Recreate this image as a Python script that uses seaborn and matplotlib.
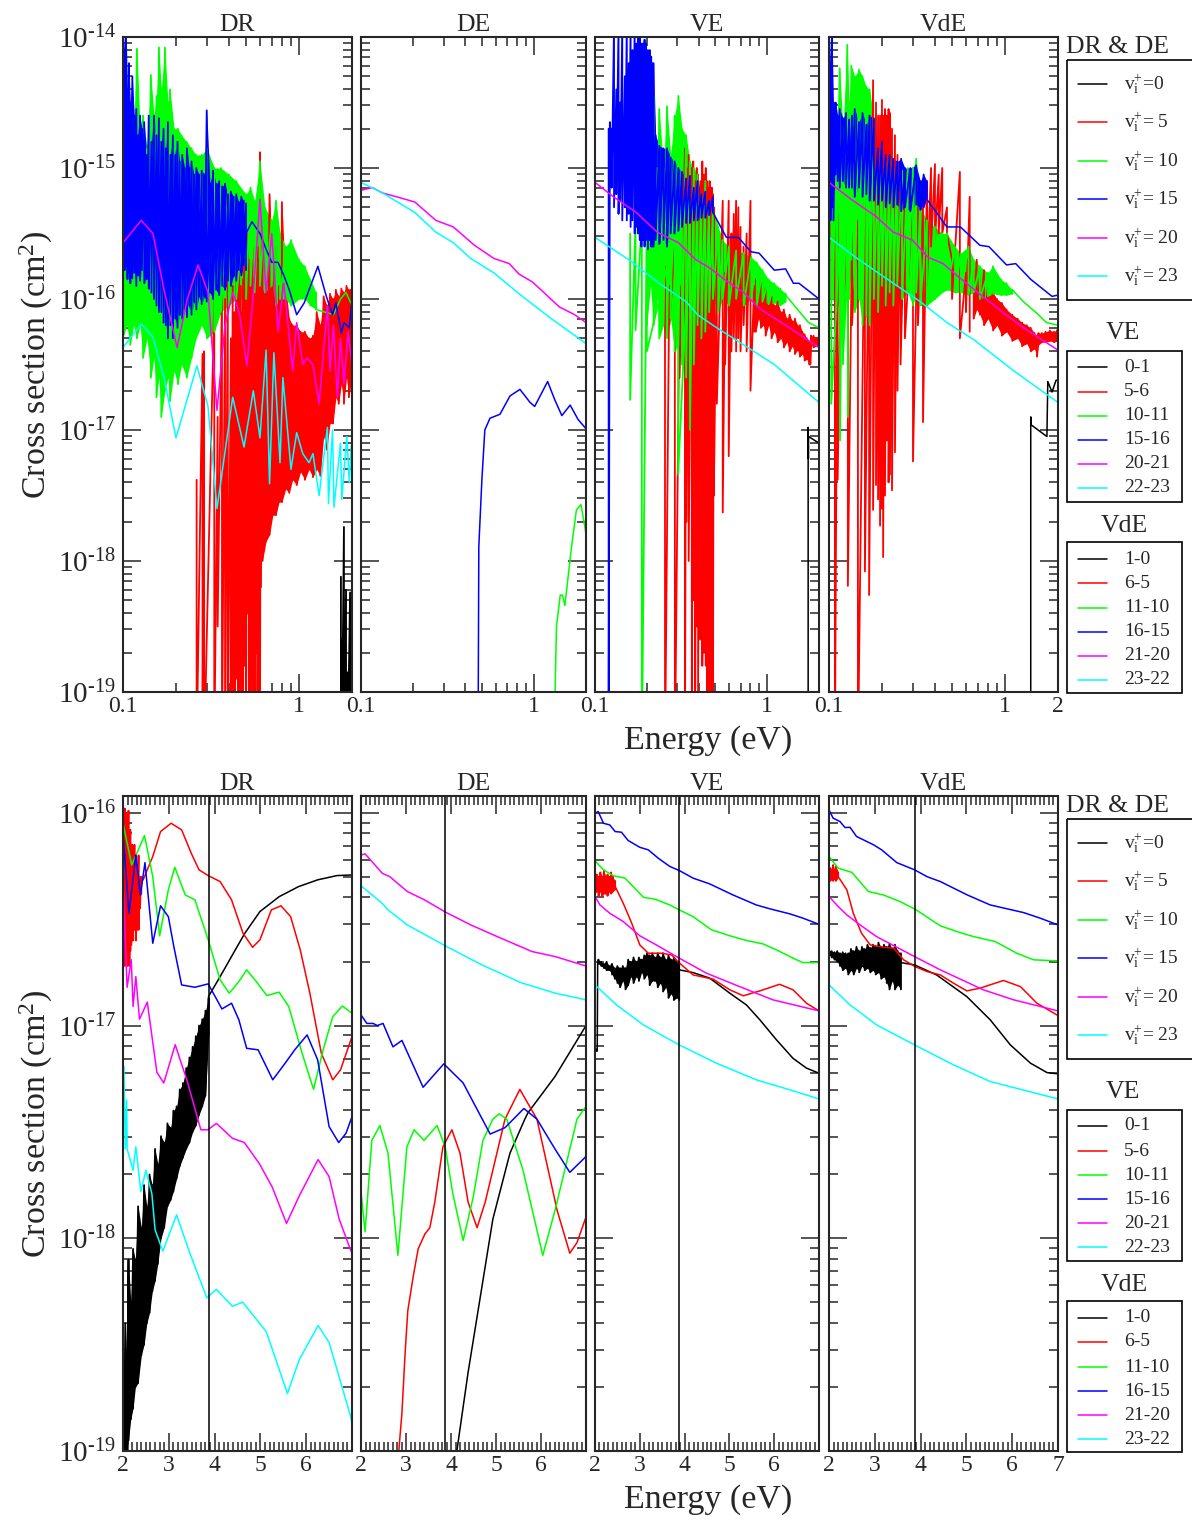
# -*- coding: utf-8 -*-
import matplotlib
matplotlib.use('Agg')
import matplotlib.pyplot as plt
from matplotlib.patches import Rectangle
from matplotlib.ticker import FixedLocator, FixedFormatter, NullFormatter
import seaborn as sns
import numpy as np

sns.set_style('ticks')
plt.rcParams['font.family'] = ['Liberation Serif', 'DejaVu Sans']
plt.rcParams['mathtext.fontset'] = 'custom'
plt.rcParams['mathtext.rm'] = 'Liberation Serif'
plt.rcParams['mathtext.it'] = 'Liberation Serif:italic'
plt.rcParams['mathtext.default'] = 'rm'

BLACK, RED, GREEN, BLUE, MAGENTA, CYAN = '#000000', '#ff0000', '#00ff00', '#0000ff', '#ff00ff', '#00ffff'

process_names = ['DR', 'DE', 'VE', 'VdE']
legend_dr = ['=0', '= 5', '= 10', '= 15', '= 20', '= 23']
legend_ve = ['0-1', '5-6', '10-11', '15-16', '20-21', '22-23']
legend_vde = ['1-0', '6-5', '11-10', '16-15', '21-20', '23-22']
top_yticks = [-19, -18, -17, -16, -15, -14]
low_yticks = [-19, -18, -17, -16]
top_xticks = [0.1, 1, 2]
low_xticks = [2, 3, 4, 5, 6, 7]
threshold_energy = 3.87

# ---------- 0.1 - 2 eV, log10(cross section); bands are (E, high, low)
dr_black_spikes = [(1.73, -18.12, -19.5), (1.75, -18.6, -19.5), (1.80, -17.74, -19.5), (1.85, -18.22, -19.5),
                   (1.89, -18.85, -19.5), (1.95, -18.24, -19.5), (1.98, -18.3, -19.5)]
dr_red_spikes = [(0.262, -17.38, -19.5), (0.283, -16.42, -19.5), (0.289, -16.4, -19.5), (0.33, -16.0, -19.5),
                 (0.345, -16.9, -18.5), (0.365, -15.9, -19.5), (0.38, -16.0, -19.5), (0.394, -15.75, -19.5),
                 (0.41, -16.3, -19.5), (0.42, -15.9, -19.5), (0.43, -16.1, -19.5), (0.44, -15.8, -18.9),
                 (0.45, -15.95, -19.5), (0.457, -15.7, -19.5), (0.465, -15.9, -19.5), (0.472, -16.1, -19.5),
                 (0.48, -15.85, -19.5), (0.49, -15.6, -18.8), (0.5, -15.8, -19.5), (0.51, -15.5, -18.4),
                 (0.52, -15.7, -19.5), (0.53, -15.9, -19.5), (0.54, -15.7, -18.9), (0.55, -15.85, -19.5),
                 (0.56, -15.6, -19.5), (0.57, -15.8, -18.7), (0.58, -15.6, -19.5), (0.59, -15.7, -19.5),
                 (0.6, -14.88, -19.5), (0.607, -15.6, -18.2)]
dr_red_band = [(0.62, -15.5, -18.0), (0.65, -15.8, -17.85), (0.68, -15.2, -17.8), (0.71, -15.7, -17.65),
               (0.74, -15.6, -17.65), (0.77, -15.9, -17.55), (0.8, -15.26, -17.55), (0.84, -15.9, -17.45),
               (0.88, -16.15, -17.48), (0.92, -16.2, -17.38), (0.97, -16.2, -17.42), (1.02, -16.25, -17.32),
               (1.08, -16.25, -17.38), (1.14, -16.3, -17.3), (1.2, -16.28, -17.36), (1.26, -16.1, -17.3),
               (1.32, -16.2, -17.35), (1.38, -15.98, -17.05), (1.44, -16.05, -17.15), (1.5, -15.96, -16.95),
               (1.56, -16.0, -16.95), (1.62, -15.93, -16.75), (1.68, -15.98, -16.8), (1.74, -15.92, -16.65),
               (1.8, -15.95, -16.8), (1.86, -15.9, -16.6), (1.92, -15.93, -16.75), (2.0, -15.9, -16.6)]
dr_green_band = [(0.1, -15.1, -16.3), (0.105, -14.9, -16.2), (0.11, -15.0, -16.35), (0.115, -14.75, -16.2),
                 (0.12, -14.09, -16.3), (0.125, -14.7, -16.2), (0.13, -14.6, -16.45), (0.137, -14.85, -16.3),
                 (0.144, -14.29, -16.6), (0.15, -14.6, -16.45), (0.155, -14.45, -16.75), (0.16, -14.08, -16.6),
                 (0.165, -14.4, -16.9), (0.173, -14.08, -16.7), (0.18, -14.5, -16.6), (0.185, -14.4, -16.78),
                 (0.195, -14.7, -16.55), (0.205, -14.7, -16.65), (0.215, -14.75, -16.5), (0.23, -14.8, -16.6),
                 (0.245, -14.85, -16.45), (0.26, -14.9, -16.3), (0.28, -14.9, -16.2), (0.3, -14.85, -16.3),
                 (0.33, -15.0, -16.25), (0.36, -15.0, -16.1), (0.4, -15.05, -16.05), (0.44, -15.1, -16.0),
                 (0.5, -15.2, -16.0), (0.53, -15.15, -15.9), (0.56, -15.25, -15.95), (0.6, -14.95, -15.9),
                 (0.64, -15.3, -15.95), (0.7, -15.4, -15.9), (0.74, -15.25, -16.05), (0.78, -15.5, -16.0),
                 (0.84, -15.6, -16.0), (0.9, -15.55, -16.05), (1.0, -15.7, -16.0), (1.08, -15.75, -16.0),
                 (1.16, -15.85, -16.05), (1.25, -15.95, -16.08)]
dr_green_E = [1.25, 1.4, 1.57, 1.72, 1.85, 2.0]
dr_green_S = [-16.08, -16.1, -16.12, -16.0, -15.95, -16.05]
dr_blue_band = [(0.1, -13.9, -15.72), (0.102, -14.1, -15.78), (0.104, -13.9, -15.75), (0.106, -14.4, -15.85),
                (0.108, -14.2, -15.8), (0.11, -14.5, -15.88), (0.113, -14.3, -15.84), (0.116, -14.6, -15.8),
                (0.119, -14.55, -15.9), (0.122, -14.75, -15.82), (0.125, -14.6, -15.86), (0.128, -14.7, -15.78),
                (0.132, -14.65, -15.88), (0.136, -14.9, -15.85), (0.14, -14.6, -15.92), (0.145, -14.8, -15.95),
                (0.15, -14.6, -16.0), (0.155, -14.75, -16.05), (0.16, -14.62, -16.1), (0.165, -14.8, -16.1),
                (0.17, -14.7, -16.18), (0.175, -14.85, -16.2), (0.18, -14.65, -16.3), (0.186, -14.9, -16.2),
                (0.192, -14.75, -16.3), (0.198, -14.9, -16.15), (0.204, -14.8, -16.22), (0.21, -14.95, -16.12),
                (0.217, -14.9, -16.15), (0.224, -15.0, -16.08), (0.231, -14.85, -16.14), (0.238, -15.0, -16.05),
                (0.245, -14.95, -16.12), (0.253, -15.05, -16.02), (0.261, -15.0, -16.08), (0.27, -15.05, -15.98),
                (0.28, -15.02, -16.04), (0.29, -15.05, -15.98), (0.299, -14.56, -16.02), (0.312, -15.12, -15.95),
                (0.325, -15.02, -16.0), (0.338, -15.12, -15.93), (0.352, -15.1, -15.97), (0.366, -15.14, -15.9),
                (0.38, -15.12, -15.93), (0.395, -15.2, -15.86), (0.41, -15.18, -15.9), (0.425, -15.22, -15.82),
                (0.44, -15.2, -15.86), (0.455, -15.26, -15.78), (0.47, -15.22, -15.82), (0.485, -15.25, -15.74),
                (0.5, -15.27, -15.78)]
dr_blue_E = [0.5, 0.54, 0.6, 0.65, 0.7, 0.76, 0.82, 0.88, 0.97, 1.07, 1.28, 1.43, 1.55, 1.62, 1.74, 1.8, 1.93, 2.0]
dr_blue_S = [-15.5, -15.41, -15.5, -15.62, -15.72, -15.72, -15.82, -15.93, -16.12, -16.03, -15.75, -15.98, -16.12,
             -16.03, -16.26, -16.18, -16.22, -16.0]
dr_magenta_E = [0.1, 0.127, 0.148, 0.171, 0.203, 0.231, 0.267, 0.304, 0.342, 0.38, 0.42, 0.46, 0.506, 0.547, 0.6,
                0.65, 0.7, 0.76, 0.82, 0.88, 0.92, 0.97, 1.05, 1.11, 1.2, 1.3, 1.45, 1.5, 1.57, 1.65, 1.72, 1.8, 1.9, 2.0]
dr_magenta_S = [-15.57, -15.4, -15.5, -15.93, -16.37, -16.01, -15.74, -15.95, -16.85, -16.2, -15.95, -16.12, -16.51,
                -16.0, -15.24, -15.95, -15.5, -16.25, -15.88, -16.29, -16.55, -16.18, -16.5, -16.45, -16.5, -16.8,
                -16.05, -16.55, -16.2, -16.75, -16.3, -16.65, -16.25, -16.5]
dr_cyan_E = [0.1, 0.127, 0.148, 0.171, 0.2, 0.263, 0.304, 0.342, 0.42, 0.487, 0.55, 0.6, 0.65, 0.68, 0.72, 0.78, 0.81,
             0.9, 0.97, 1.05, 1.14, 1.2, 1.3, 1.45, 1.47, 1.55, 1.58, 1.72, 1.75, 1.87, 1.93, 1.98]
dr_cyan_S = [-16.37, -16.19, -16.29, -16.6, -17.06, -16.51, -16.82, -17.6, -16.75, -17.13, -16.7, -17.06, -16.39,
             -17.41, -16.41, -17.25, -16.6, -17.3, -17.02, -17.18, -17.25, -17.18, -17.5, -16.98, -17.56, -17.0,
             -17.59, -17.1, -17.53, -17.05, -17.4, -17.12]

de_blue_E = [0.475, 0.48, 0.5, 0.52, 0.557, 0.636, 0.727, 0.83, 0.95, 1.01, 1.2, 1.32, 1.45, 1.62, 1.8, 2.0]
de_blue_S = [-19.5, -17.89, -17.38, -17.0, -16.91, -16.88, -16.74, -16.69, -16.79, -16.82, -16.63, -16.77, -16.89,
             -16.81, -16.92, -16.99]
de_green_E = [1.3, 1.35, 1.42, 1.46, 1.51, 1.65, 1.76, 1.87, 1.97, 2.0]
de_green_S = [-19.5, -18.5, -18.26, -18.26, -18.34, -17.89, -17.61, -17.57, -17.74, -17.8]
de_magenta_E = [0.1, 0.1165, 0.133, 0.171, 0.205, 0.271, 0.342, 0.453, 0.586, 0.72, 0.82, 0.98, 1.14, 1.4, 1.72, 2.0]
de_magenta_S = [-15.17, -15.15, -15.19, -15.23, -15.26, -15.4, -15.45, -15.59, -15.69, -15.73, -15.81, -15.87, -15.95,
                -16.06, -16.12, -16.18]
de_cyan_E = [0.1, 0.133, 0.205, 0.271, 0.342, 0.43, 0.586, 0.838, 1.26, 2.0]
de_cyan_S = [-15.11, -15.19, -15.34, -15.49, -15.57, -15.69, -15.8, -15.97, -16.15, -16.34]

ve_black_E = [1.73, 1.73, 1.735, 1.74, 2.0]
ve_black_S = [-19.5, -16.98, -17.22, -17.05, -17.1]
ve_red_spikes = [(0.255, -15.75, -19.5), (0.27, -15.9, -16.2), (0.291, -15.6, -19.5), (0.31, -15.9, -16.6),
                 (0.333, -14.85, -19.5), (0.34, -15.0, -17.7), (0.35, -14.9, -18.0), (0.365, -15.0, -19.5),
                 (0.372, -14.95, -18.3), (0.381, -15.1, -19.5), (0.39, -15.0, -18.5), (0.397, -15.05, -19.0),
                 (0.41, -15.1, -18.6), (0.42, -14.95, -18.8), (0.43, -15.05, -18.7), (0.44, -15.0, -18.8),
                 (0.447, -15.1, -19.5), (0.455, -15.15, -19.5), (0.463, -15.1, -19.5), (0.47, -15.2, -19.5),
                 (0.477, -15.15, -19.5), (0.484, -15.2, -19.5), (0.49, -15.3, -17.5), (0.51, -15.6, -16.8),
                 (0.552, -15.25, -17.63), (0.57, -15.8, -16.5), (0.598, -15.25, -17.2), (0.62, -15.5, -16.4),
                 (0.64, -15.35, -16.3), (0.66, -15.25, -16.4), (0.68, -15.3, -16.3), (0.7, -15.45, -16.4),
                 (0.73, -15.6, -16.2), (0.76, -15.5, -16.4), (0.8, -15.25, -16.7), (0.84, -15.9, -16.25)]
ve_red_band = [(0.86, -15.85, -16.25), (0.89, -15.95, -16.15), (0.92, -15.85, -16.22), (0.95, -16.0, -16.2),
               (0.98, -15.92, -16.28), (1.02, -16.02, -16.2), (1.06, -15.98, -16.3), (1.1, -16.05, -16.25),
               (1.15, -16.02, -16.33), (1.2, -16.1, -16.3), (1.25, -16.08, -16.37), (1.3, -16.15, -16.33),
               (1.35, -16.12, -16.4), (1.4, -16.17, -16.36), (1.45, -16.15, -16.42), (1.5, -16.2, -16.39),
               (1.55, -16.2, -16.44), (1.6, -16.25, -16.42), (1.65, -16.27, -16.47), (1.7, -16.3, -16.46),
               (1.76, -16.33, -16.5), (1.78, -16.35, -16.5), (1.8, -16.28, -16.35), (1.86, -16.28, -16.37),
               (1.92, -16.3, -16.36), (2.0, -16.28, -16.37)]
ve_green_spikes = [(0.16, -15.5, -16.77), (0.172, -15.4, -16.24), (0.187, -15.4, -19.5), (0.2, -15.4, -16.4),
                   (0.304, -15.4, -17.34), (0.356, -15.4, -16.81)]
ve_green_band = [(0.2, -14.6, -16.2), (0.21, -15.0, -15.9), (0.219, -14.45, -16.2), (0.23, -15.0, -16.0),
                 (0.236, -14.55, -16.3), (0.25, -15.0, -16.2), (0.262, -14.53, -16.3), (0.275, -14.9, -16.15),
                 (0.29, -14.6, -16.4), (0.305, -14.45, -16.35), (0.32, -14.7, -16.5), (0.338, -14.75, -16.6),
                 (0.356, -14.95, -17.0), (0.375, -15.0, -16.5), (0.394, -15.05, -16.2), (0.415, -15.2, -16.3),
                 (0.437, -15.1, -16.25), (0.46, -15.25, -16.1), (0.484, -15.3, -16.0), (0.52, -15.45, -16.1),
                 (0.55, -15.55, -16.0), (0.6, -15.6, -16.05), (0.66, -15.63, -16.0), (0.73, -15.65, -16.05),
                 (0.807, -15.68, -16.0), (0.87, -15.72, -16.05), (0.94, -15.78, -16.02), (1.02, -15.85, -16.04),
                 (1.1, -15.88, -16.03), (1.19, -15.92, -16.05), (1.28, -15.96, -16.02)]
ve_green_E = [1.28, 1.48, 1.74, 2.0]
ve_green_S = [-15.97, -16.07, -16.18, -16.22]
ve_blue_spikes = [(0.12, -14.7, -19.5), (0.122, -14.65, -15.1), (0.125, -14.7, -15.15), (0.129, -13.9, -15.3),
                  (0.133, -14.4, -15.2), (0.137, -13.9, -15.35), (0.14, -14.5, -15.25), (0.144, -13.9, -15.4),
                  (0.149, -14.3, -15.3), (0.153, -13.9, -15.4), (0.157, -14.2, -15.35), (0.161, -13.9, -15.45),
                  (0.165, -14.1, -15.4), (0.17, -13.9, -15.5), (0.174, -14.05, -15.45), (0.178, -13.9, -15.5),
                  (0.182, -14.0, -15.55), (0.186, -14.05, -15.6), (0.19, -14.05, -15.55), (0.194, -14.02, -15.6),
                  (0.198, -14.05, -15.55), (0.203, -14.1, -15.62), (0.208, -14.1, -15.55), (0.212, -14.15, -15.6),
                  (0.216, -14.2, -15.6)]
ve_blue_band = [(0.219, -14.2, -15.6), (0.225, -14.75, -15.55), (0.236, -14.83, -15.58), (0.25, -14.85, -15.55),
                (0.262, -14.85, -15.6), (0.275, -14.92, -15.5), (0.29, -14.95, -15.5), (0.305, -15.0, -15.48),
                (0.32, -15.03, -15.45), (0.338, -15.08, -15.42), (0.356, -15.06, -15.42), (0.375, -15.15, -15.4),
                (0.394, -15.1, -15.4), (0.415, -15.2, -15.38), (0.437, -15.18, -15.38), (0.46, -15.25, -15.36),
                (0.484, -15.22, -15.34)]
ve_blue_E = [0.484, 0.58, 0.68, 0.807, 0.897, 1.1, 1.28, 1.42, 1.53, 1.79, 2.0]
ve_blue_S = [-15.34, -15.53, -15.53, -15.64, -15.65, -15.78, -15.77, -15.88, -15.88, -15.95, -16.0]
ve_magenta_E = [0.1, 0.128, 0.174, 0.23, 0.305, 0.385, 0.46, 0.565, 0.73, 0.897, 1.35, 2.0]
ve_magenta_S = [-15.11, -15.22, -15.34, -15.49, -15.57, -15.7, -15.76, -15.85, -15.95, -16.07, -16.22, -16.37]
ve_cyan_E = [0.1, 0.157, 0.236, 0.338, 0.394, 0.51, 0.73, 1.1, 2.0]
ve_cyan_S = [-15.53, -15.7, -15.88, -16.02, -16.12, -16.22, -16.35, -16.5, -16.79]

vde_black_E = [1.4, 1.4, 1.405, 1.73, 1.75, 1.85, 1.95, 2.0]
vde_black_S = [-19.5, -16.9, -16.96, -17.05, -16.63, -16.71, -16.62, -16.62]
vde_red_spikes = [(0.1, -15.33, -15.6), (0.103, -15.4, -16.0), (0.108, -15.3, -19.5), (0.112, -15.35, -17.38),
                  (0.118, -15.4, -16.3), (0.128, -15.4, -18.19), (0.135, -15.5, -16.2), (0.146, -15.4, -19.5),
                  (0.16, -15.1, -18.08), (0.169, -15.1, -18.26), (0.178, -14.33, -17.61), (0.185, -14.5, -17.42),
                  (0.19, -14.6, -17.53), (0.195, -14.6, -17.73), (0.2, -14.48, -17.6), (0.203, -14.6, -17.97),
                  (0.208, -14.55, -17.5), (0.213, -14.6, -17.08), (0.218, -14.55, -17.4), (0.222, -14.58, -17.34),
                  (0.228, -14.7, -17.46), (0.237, -14.75, -17.17), (0.245, -14.9, -16.7), (0.255, -15.0, -16.5),
                  (0.27, -15.2, -16.3), (0.3, -15.2, -17.24), (0.32, -15.3, -16.2), (0.342, -15.3, -16.94),
                  (0.36, -15.1, -15.9), (0.38, -15.0, -15.6), (0.4, -14.97, -15.55), (0.42, -15.05, -15.5),
                  (0.44, -15.0, -15.5), (0.468, -15.3, -15.5), (0.5, -15.7, -16.0), (0.554, -15.03, -16.3),
                  (0.6, -15.8, -16.1), (0.63, -15.22, -16.25)]
vde_red_band = [(0.664, -15.78, -16.15), (0.69, -15.7, -16.08), (0.72, -15.82, -16.12), (0.76, -15.78, -16.2),
                (0.8, -15.9, -16.15), (0.855, -15.95, -16.24), (0.9, -16.0, -16.2), (0.96, -16.03, -16.28),
                (1.02, -16.08, -16.25), (1.1, -16.12, -16.32), (1.18, -16.15, -16.3), (1.25, -16.18, -16.36),
                (1.33, -16.2, -16.34), (1.4, -16.22, -16.4), (1.47, -16.26, -16.38), (1.52, -16.28, -16.44),
                (1.55, -16.26, -16.35), (1.62, -16.26, -16.33), (1.7, -16.25, -16.33), (1.8, -16.24, -16.32),
                (1.9, -16.25, -16.33), (2.0, -16.22, -16.32)]
vde_green_spikes = [(0.103, -15.0, -16.8), (0.1155, -15.5, -17.08), (0.119, -15.3, -16.3), (0.128, -15.0, -16.9)]
vde_green_band = [(0.105, -15.0, -16.0), (0.11, -14.75, -16.1), (0.115, -14.24, -16.0), (0.12, -14.7, -16.5),
                  (0.127, -14.06, -15.9), (0.13, -14.5, -16.0), (0.134, -14.22, -15.7), (0.14, -14.3, -16.1),
                  (0.148, -14.25, -16.0), (0.155, -14.3, -16.2), (0.163, -14.38, -16.13), (0.17, -14.4, -16.2),
                  (0.18, -14.63, -16.0), (0.19, -14.9, -16.1), (0.2, -14.88, -15.9), (0.21, -14.95, -16.05),
                  (0.221, -14.93, -15.95), (0.232, -15.0, -16.05), (0.244, -14.96, -15.9), (0.26, -15.02, -16.0),
                  (0.28, -15.0, -15.95), (0.3, -15.0, -16.05), (0.313, -14.93, -15.95), (0.33, -15.3, -16.05),
                  (0.36, -15.4, -16.05), (0.4, -15.45, -16.0), (0.44, -15.5, -15.95), (0.468, -15.5, -15.93),
                  (0.52, -15.6, -15.95), (0.56, -15.65, -15.95), (0.62, -15.6, -15.97), (0.664, -15.7, -15.95),
                  (0.72, -15.75, -16.0), (0.8, -15.8, -15.98), (0.855, -15.75, -15.96), (0.95, -15.85, -15.97),
                  (1.02, -15.88, -15.97), (1.1, -15.93, -15.96)]
vde_green_E = [1.1, 1.27, 1.52, 1.72, 2.0]
vde_green_S = [-15.93, -16.02, -16.11, -16.18, -16.2]
vde_blue_band = [(0.1, -13.9, -15.2), (0.102, -14.2, -15.4), (0.104, -13.95, -15.3), (0.106, -14.5, -15.4),
                 (0.109, -14.5, -15.05), (0.112, -14.6, -15.1), (0.115, -14.55, -15.15), (0.12, -14.62, -15.1),
                 (0.125, -14.58, -15.15), (0.13, -14.63, -15.15), (0.135, -14.6, -15.15), (0.14, -14.55, -15.22),
                 (0.148, -14.65, -15.15), (0.155, -14.58, -15.22), (0.163, -14.67, -15.2), (0.17, -14.6, -15.25),
                 (0.18, -14.62, -15.25), (0.19, -14.85, -15.28), (0.2, -14.8, -15.25), (0.21, -14.9, -15.3),
                 (0.221, -14.9, -15.27), (0.232, -14.93, -15.3), (0.244, -14.95, -15.28), (0.257, -14.93, -15.33),
                 (0.27, -15.0, -15.3), (0.29, -15.0, -15.33), (0.313, -14.98, -15.28), (0.33, -15.1, -15.32),
                 (0.345, -15.05, -15.3), (0.36, -15.1, -15.24)]
vde_blue_E = [0.36, 0.468, 0.558, 0.72, 0.81, 1.02, 1.15, 1.4, 1.85, 2.0]
vde_blue_S = [-15.24, -15.45, -15.45, -15.59, -15.6, -15.74, -15.73, -15.85, -15.98, -15.97]
vde_magenta_E = [0.1, 0.134, 0.185, 0.232, 0.298, 0.364, 0.445, 0.543, 0.7, 0.99, 1.34, 2.0]
vde_magenta_S = [-15.11, -15.24, -15.37, -15.49, -15.55, -15.68, -15.73, -15.83, -15.95, -16.11, -16.24, -16.39]
vde_cyan_E = [0.1, 0.148, 0.232, 0.33, 0.468, 0.664, 1.1, 2.0]
vde_cyan_S = [-15.53, -15.7, -15.88, -16.02, -16.18, -16.31, -16.54, -16.79]

# ---------- 2 - 7 eV
low_dr_black_band = [(2.0, -18.7, -19.5), (2.05, -18.4, -19.5), (2.08, -18.55, -19.0), (2.12, -18.1, -18.95),
                     (2.17, -18.3, -18.85), (2.22, -18.05, -18.8), (2.27, -18.1, -18.7), (2.33, -17.85, -18.68),
                     (2.4, -17.95, -18.55), (2.46, -17.75, -18.5), (2.52, -17.85, -18.4), (2.58, -17.7, -18.35),
                     (2.64, -17.75, -18.25), (2.7, -17.58, -18.2), (2.76, -17.65, -18.12), (2.83, -17.52, -18.0),
                     (2.9, -17.55, -17.95), (2.97, -17.46, -17.85), (3.04, -17.48, -17.82), (3.1, -17.4, -17.78),
                     (3.17, -17.38, -17.72), (3.24, -17.3, -17.66), (3.31, -17.27, -17.62), (3.38, -17.2, -17.58),
                     (3.45, -17.15, -17.55), (3.52, -17.1, -17.5), (3.59, -17.05, -17.47), (3.66, -17.0, -17.42),
                     (3.73, -16.97, -17.38), (3.8, -16.93, -17.33), (3.87, -16.87, -17.05)]
low_dr_black_E = [3.865, 4.12, 4.41, 4.66, 4.99, 5.41, 5.83, 6.25, 6.67, 7.0]
low_dr_black_S = [-16.864, -16.77, -16.66, -16.566, -16.464, -16.394, -16.347, -16.315, -16.295, -16.292]
low_dr_red_spikes = [(2.0, -16.0, -16.6), (2.02, -16.03, -16.7), (2.04, -15.98, -16.72), (2.06, -16.05, -16.7),
                     (2.08, -16.0, -16.71), (2.1, -16.08, -16.72), (2.12, -15.99, -16.71), (2.14, -16.1, -16.72),
                     (2.16, -16.08, -16.65), (2.18, -16.15, -16.62), (2.2, -16.15, -16.6), (2.22, -16.2, -16.6),
                     (2.25, -16.15, -16.55), (2.28, -16.2, -16.6), (2.31, -16.25, -16.55), (2.34, -16.2, -16.55),
                     (2.37, -16.3, -16.45), (2.4, -16.3, -16.38)]
low_dr_red_E = [2.44, 2.65, 2.82, 3.05, 3.28, 3.49, 3.66, 3.86, 4.12, 4.37, 4.62, 4.83, 4.99, 5.24, 5.45, 5.66, 5.87,
                6.08, 6.33, 6.58, 6.75, 7.0]
low_dr_red_S = [-16.315, -16.205, -16.088, -16.049, -16.08, -16.19, -16.268, -16.295, -16.323, -16.409, -16.566,
                -16.632, -16.597, -16.456, -16.437, -16.488, -16.644, -16.848, -17.13, -17.255, -17.208, -17.052]
low_dr_green_E = [2.0, 2.19, 2.47, 2.65, 2.8, 2.99, 3.13, 3.36, 3.57, 3.86, 4.12, 4.32, 4.53, 4.7, 4.91, 5.14, 5.41,
                  5.62, 5.91, 6.16, 6.37, 6.58, 6.79, 7.0]
low_dr_green_S = [-16.049, -16.245, -16.107, -16.3, -16.578, -16.362, -16.256, -16.386, -16.409, -16.597, -16.785,
                  -16.848, -16.793, -16.738, -16.793, -16.859, -16.843, -16.911, -17.13, -17.3, -17.114, -16.958,
                  -16.908, -16.942]
low_dr_blue_E = [2.0, 2.13, 2.28, 2.38, 2.48, 2.65, 2.82, 2.99, 3.11, 3.28, 3.57, 3.86, 4.16, 4.37, 4.53, 4.7, 4.95,
                 5.27, 5.54, 5.75, 6.02, 6.25, 6.5, 6.71, 6.87, 7.0]
low_dr_blue_S = [-16.096, -16.472, -16.198, -16.386, -16.234, -16.613, -16.437, -16.488, -16.629, -16.809, -16.82,
                 -16.804, -16.922, -16.895, -16.973, -17.107, -17.114, -17.255, -17.177, -17.114, -17.044, -17.161,
                 -17.475, -17.55, -17.506, -17.428]
low_dr_magenta_E = [2.0, 2.05, 2.09, 2.18, 2.22, 2.28, 2.36, 2.53, 2.74, 2.89, 3.14, 3.4, 3.7, 3.85, 4.04, 4.39, 4.65,
                    4.98, 5.26, 5.57, 5.85, 6.26, 6.5, 6.72, 6.96, 7.0]
low_dr_magenta_S = [-16.3, -16.6, -16.82, -16.69, -16.91, -16.77, -16.97, -16.89, -17.22, -17.27, -17.09, -17.26,
                    -17.49, -17.49, -17.46, -17.53, -17.55, -17.65, -17.76, -17.93, -17.8, -17.63, -17.71, -17.91,
                    -18.05, -18.07]
low_dr_cyan_E = [2.02, 2.05, 2.08, 2.09, 2.22, 2.28, 2.39, 2.5, 2.63, 2.7, 2.87, 3.17, 3.46, 3.83, 4.04, 4.39, 4.61,
                 4.91, 5.13, 5.59, 5.85, 6.26, 6.5, 6.96, 7.0]
low_dr_cyan_S = [-17.19, -17.58, -17.35, -17.58, -17.68, -17.57, -17.78, -17.68, -17.79, -17.96, -18.06, -17.89,
                 -18.07, -18.28, -18.24, -18.32, -18.3, -18.38, -18.44, -18.73, -18.57, -18.41, -18.49, -18.83, -18.87]

low_de_black_E = [4.13, 4.38, 4.64, 4.93, 5.31, 5.64, 5.71, 6.31, 7.0]
low_de_black_S = [-19.0, -18.63, -18.29, -17.91, -17.6, -17.44, -17.41, -17.24, -17.0]
low_de_red_E = [2.84, 2.91, 2.98, 3.04, 3.16, 3.27, 3.42, 3.53, 3.64, 3.82, 4.02, 4.2, 4.38, 4.58, 4.76, 5.2, 5.53,
                5.91, 6.36, 6.64, 6.8, 7.0]
low_de_red_S = [-19.0, -18.82, -18.54, -18.34, -18.18, -18.05, -17.98, -17.95, -17.83, -17.57, -17.49, -17.6, -17.83,
                -17.95, -17.83, -17.44, -17.3, -17.44, -17.87, -18.07, -18.02, -17.9]
low_de_green_E = [2.0, 2.09, 2.24, 2.42, 2.6, 2.82, 3.02, 3.18, 3.4, 3.69, 3.87, 4.04, 4.27, 4.49, 4.71, 4.93, 5.07,
                  5.24, 5.6, 6.04, 6.31, 6.8, 7.0]
low_de_green_S = [-17.78, -17.97, -17.54, -17.47, -17.6, -18.08, -17.57, -17.49, -17.54, -17.47, -17.57, -17.79,
                  -18.01, -17.81, -17.54, -17.44, -17.415, -17.44, -17.68, -18.08, -17.87, -17.44, -17.38]
low_de_blue_E = [2.0, 2.13, 2.27, 2.36, 2.49, 2.71, 2.91, 3.38, 3.84, 4.27, 4.87, 5.2, 5.62, 5.91, 6.31, 6.64, 6.98, 7.0]
low_de_blue_S = [-16.95, -16.99, -16.99, -17.0, -16.99, -17.1, -17.07, -17.29, -17.18, -17.27, -17.51, -17.48, -17.39,
                 -17.44, -17.58, -17.69, -17.62, -17.61]
low_de_magenta_E = [2.0, 2.09, 2.21, 2.47, 2.64, 3.03, 3.41, 3.88, 4.44, 5.03, 5.8, 6.32, 7.0]
low_de_magenta_S = [-16.198, -16.193, -16.221, -16.284, -16.3, -16.37, -16.409, -16.467, -16.527, -16.582, -16.652,
                    -16.676, -16.72]
low_de_cyan_E = [2.0, 2.47, 2.6, 3.03, 3.88, 4.69, 5.55, 6.32, 7.0]
low_de_cyan_S = [-16.343, -16.425, -16.456, -16.527, -16.626, -16.715, -16.798, -16.848, -16.879]

low_ve_black_start_E = [2.0, 2.03, 2.05, 2.06, 2.07]
low_ve_black_start_S = [-17.1, -17.12, -17.12, -16.7, -16.69]
low_ve_black_band = [(2.08, -16.69, -16.71), (2.14, -16.7, -16.72), (2.2, -16.71, -16.73), (2.26, -16.7, -16.74),
                     (2.32, -16.72, -16.74), (2.38, -16.71, -16.76), (2.44, -16.73, -16.78), (2.5, -16.72, -16.8),
                     (2.56, -16.73, -16.82), (2.62, -16.72, -16.79), (2.68, -16.73, -16.83), (2.74, -16.69, -16.81),
                     (2.8, -16.7, -16.77), (2.86, -16.68, -16.8), (2.92, -16.7, -16.77), (2.98, -16.68, -16.79),
                     (3.04, -16.69, -16.75), (3.1, -16.67, -16.78), (3.16, -16.66, -16.76), (3.22, -16.67, -16.81),
                     (3.28, -16.66, -16.79), (3.34, -16.68, -16.79), (3.4, -16.66, -16.82), (3.46, -16.68, -16.8),
                     (3.52, -16.66, -16.84), (3.58, -16.69, -16.82), (3.64, -16.67, -16.87), (3.7, -16.69, -16.85),
                     (3.76, -16.68, -16.88), (3.82, -16.7, -16.87), (3.88, -16.7, -16.88)]
low_ve_black_E = [3.88, 4.19, 4.56, 5.01, 5.38, 5.68, 6.05, 6.42, 6.72, 7.0]
low_ve_black_S = [-16.738, -16.751, -16.777, -16.848, -16.903, -16.973, -17.067, -17.154, -17.2, -17.224]
low_ve_red_band = [(2.0, -16.3, -16.38), (2.04, -16.29, -16.37), (2.08, -16.3, -16.39), (2.12, -16.28, -16.37),
                   (2.16, -16.3, -16.39), (2.2, -16.27, -16.38), (2.24, -16.3, -16.38), (2.28, -16.29, -16.39),
                   (2.32, -16.3, -16.37), (2.36, -16.28, -16.38), (2.4, -16.3, -16.37), (2.45, -16.32, -16.36)]
low_ve_red_E = [2.45, 2.63, 2.82, 3.0, 3.19, 3.49, 3.71, 3.89, 4.19, 4.64, 5.01, 5.31, 5.68, 6.12, 6.42, 6.72, 7.0]
low_ve_red_S = [-16.346, -16.425, -16.519, -16.621, -16.66, -16.66, -16.668, -16.707, -16.762, -16.782, -16.832,
                -16.86, -16.837, -16.806, -16.832, -16.895, -16.931]
low_ve_green_E = [2.0, 2.19, 2.41, 2.67, 2.85, 3.08, 3.34, 3.67, 3.88, 4.19, 4.6, 5.01, 5.38, 5.75, 6.05, 6.42, 6.64, 7.0]
low_ve_green_S = [-16.226, -16.268, -16.296, -16.307, -16.346, -16.397, -16.406, -16.433, -16.456, -16.488, -16.55,
                  -16.578, -16.6, -16.616, -16.644, -16.683, -16.704, -16.704]
low_ve_blue_E = [2.0, 2.07, 2.19, 2.33, 2.45, 2.59, 2.74, 3.0, 3.19, 3.41, 3.67, 3.88, 4.19, 4.56, 5.08, 5.6, 5.9, 6.35,
                 6.64, 7.0]
low_ve_blue_S = [-16.002, -15.994, -16.049, -16.057, -16.088, -16.091, -16.13, -16.162, -16.174, -16.213, -16.252,
                 -16.271, -16.307, -16.334, -16.386, -16.433, -16.451, -16.475, -16.495, -16.524]
low_ve_magenta_E = [2.0, 2.11, 2.33, 2.63, 3.0, 3.37, 3.88, 4.49, 5.23, 5.97, 7.0]
low_ve_magenta_S = [-16.393, -16.433, -16.472, -16.511, -16.578, -16.621, -16.683, -16.754, -16.817, -16.879, -16.931]
low_ve_cyan_E = [2.0, 2.48, 3.08, 3.88, 4.71, 5.6, 6.35, 7.0]
low_ve_cyan_S = [-16.809, -16.903, -16.997, -17.091, -17.177, -17.255, -17.302, -17.345]

low_vde_black_band = [(2.0, -16.644, -16.668), (2.06, -16.65, -16.68), (2.12, -16.655, -16.69), (2.18, -16.65, -16.7),
                      (2.24, -16.66, -16.72), (2.3, -16.655, -16.74), (2.36, -16.66, -16.73), (2.42, -16.66, -16.76),
                      (2.48, -16.64, -16.74), (2.54, -16.65, -16.76), (2.6, -16.63, -16.73), (2.66, -16.65, -16.75),
                      (2.72, -16.63, -16.72), (2.78, -16.64, -16.74), (2.84, -16.62, -16.73), (2.9, -16.635, -16.75),
                      (2.96, -16.62, -16.74), (3.02, -16.63, -16.76), (3.08, -16.61, -16.75), (3.14, -16.63, -16.78),
                      (3.2, -16.62, -16.77), (3.26, -16.63, -16.8), (3.32, -16.615, -16.83), (3.38, -16.64, -16.79),
                      (3.44, -16.62, -16.83), (3.5, -16.65, -16.81), (3.57, -16.66, -16.83)]
low_vde_black_E = [3.57, 3.87, 4.35, 5.01, 5.52, 5.96, 6.4, 6.76, 7.0]
low_vde_black_S = [-16.704, -16.715, -16.762, -16.864, -16.973, -17.091, -17.177, -17.221, -17.227]
low_vde_red_band = [(2.0, -16.28, -16.31), (2.03, -16.26, -16.32), (2.06, -16.27, -16.31), (2.09, -16.245, -16.32),
                    (2.12, -16.27, -16.31), (2.15, -16.25, -16.32), (2.18, -16.27, -16.31), (2.2, -16.28, -16.3)]
low_vde_red_E = [2.2, 2.39, 2.53, 2.71, 2.9, 3.19, 3.41, 3.63, 3.88, 4.14, 4.43, 4.72, 5.01, 5.3, 5.81, 6.18, 6.54, 7.0]
low_vde_red_S = [-16.3, -16.362, -16.472, -16.566, -16.621, -16.632, -16.636, -16.691, -16.723, -16.746, -16.762,
                 -16.801, -16.837, -16.824, -16.788, -16.817, -16.895, -16.953]
low_vde_green_E = [2.0, 2.2, 2.5, 2.86, 3.19, 3.55, 3.88, 4.43, 4.79, 5.16, 5.63, 6.1, 6.47, 7.0]
low_vde_green_S = [-16.205, -16.26, -16.28, -16.37, -16.386, -16.417, -16.453, -16.531, -16.558, -16.582, -16.605,
                   -16.66, -16.691, -16.696]
low_vde_blue_E = [2.0, 2.09, 2.24, 2.35, 2.46, 2.6, 2.97, 3.15, 3.48, 3.87, 4.14, 4.43, 5.02, 5.52, 6.25, 6.61, 7.0]
low_vde_blue_S = [-15.986, -16.025, -16.041, -16.069, -16.068, -16.111, -16.15, -16.174, -16.234, -16.268, -16.3,
                  -16.323, -16.386, -16.433, -16.469, -16.495, -16.527]
low_vde_magenta_E = [2.0, 2.2, 2.39, 2.68, 3.04, 3.87, 4.43, 5.37, 6.03, 7.0]
low_vde_magenta_S = [-16.393, -16.44, -16.48, -16.527, -16.582, -16.676, -16.738, -16.832, -16.879, -16.931]
low_vde_cyan_E = [2.0, 2.46, 3.04, 3.87, 4.72, 5.52, 7.0]
low_vde_cyan_S = [-16.809, -16.903, -16.997, -17.091, -17.185, -17.263, -17.345]


W, H = 1192, 1520
fig = plt.figure(figsize=(W / 100, H / 100), dpi=100, facecolor='white')


def curve(ax, E, S, color, lw=1.1):
    sns.lineplot(x=np.array(E), y=10.0 ** np.array(S), ax=ax, color=color, linewidth=lw,
                 estimator=None, sort=False, legend=False)


def spikes(ax, rows, color, lw=1.3):
    rows = np.array(rows)
    E = np.repeat(rows[:, 0], 2)
    S = np.empty(E.size)
    S[0::2] = rows[:, 1]
    S[1::2] = rows[:, 2]
    curve(ax, E, S, color, lw)


def band(ax, rows, color):
    rows = np.array(rows)
    ax.fill_between(rows[:, 0], 10.0 ** rows[:, 2], 10.0 ** rows[:, 1], color=color, linewidth=0)
    spikes(ax, rows, color)


def make_panel(left, right, top, bottom):
    ax = fig.add_axes([left / W, 1 - bottom / H, (right - left) / W, (bottom - top) / H])
    ax.set_yscale('log')
    for side in ax.spines.values():
        side.set_linewidth(1.5)
    return ax


def finish_panel(ax, xlim, ylim, xmajor, xminor, xlabels, ylabels, ymajor):
    ax.set_xlim(*xlim)
    ax.set_ylim(*ylim)
    ax.xaxis.set_major_locator(FixedLocator(xmajor))
    ax.xaxis.set_minor_locator(FixedLocator(xminor))
    ax.xaxis.set_major_formatter(FixedFormatter(xlabels))
    ax.xaxis.set_minor_formatter(NullFormatter())
    yvals = [10.0 ** v for v in ymajor]
    yminor = [m * 10.0 ** v for v in ymajor for m in range(2, 10)]
    ax.yaxis.set_major_locator(FixedLocator(yvals))
    ax.yaxis.set_minor_locator(FixedLocator(yminor))
    ax.yaxis.set_major_formatter(FixedFormatter(ylabels))
    ax.yaxis.set_minor_formatter(NullFormatter())
    ax.tick_params(which='major', direction='in', length=13, width=1.1, top=True, right=True,
                   labelsize=17, pad=3)
    ax.tick_params(which='minor', direction='in', length=6.5, width=1.1, top=True, right=True)
    ax.tick_params(axis='y', which='major', labelsize=21, pad=5)
    ax.set_xlabel('')
    ax.set_ylabel('')


panel_edges = [(123, 352), (361, 586), (595, 819), (829, 1058)]
top_axes = [make_panel(l, r, 37, 692) for l, r in panel_edges]
low_axes = [make_panel(l, r, 796, 1451) for l, r in panel_edges]

# top row
ax = top_axes[0]
for i in [0]:
    ax.set_xscale('log')
spikes(ax, dr_black_spikes, BLACK)
spikes(ax, dr_red_spikes, RED)
band(ax, dr_red_band, RED)
band(ax, dr_green_band, GREEN)
curve(ax, dr_green_E, dr_green_S, GREEN)
band(ax, dr_blue_band, BLUE)
curve(ax, dr_blue_E, dr_blue_S, BLUE)
curve(ax, dr_magenta_E, dr_magenta_S, MAGENTA)
curve(ax, dr_cyan_E, dr_cyan_S, CYAN)

ax = top_axes[1]
ax.set_xscale('log')
curve(ax, de_green_E, de_green_S, GREEN)
curve(ax, de_blue_E, de_blue_S, BLUE)
curve(ax, de_magenta_E, de_magenta_S, MAGENTA)
curve(ax, de_cyan_E, de_cyan_S, CYAN)

ax = top_axes[2]
ax.set_xscale('log')
curve(ax, ve_black_E, ve_black_S, BLACK)
spikes(ax, ve_red_spikes, RED)
band(ax, ve_red_band, RED)
spikes(ax, ve_green_spikes, GREEN)
band(ax, ve_green_band, GREEN)
curve(ax, ve_green_E, ve_green_S, GREEN)
spikes(ax, ve_blue_spikes, BLUE)
band(ax, ve_blue_band, BLUE)
curve(ax, ve_blue_E, ve_blue_S, BLUE)
curve(ax, ve_magenta_E, ve_magenta_S, MAGENTA)
curve(ax, ve_cyan_E, ve_cyan_S, CYAN)

ax = top_axes[3]
ax.set_xscale('log')
curve(ax, vde_black_E, vde_black_S, BLACK)
spikes(ax, vde_red_spikes, RED)
band(ax, vde_red_band, RED)
spikes(ax, vde_green_spikes, GREEN)
band(ax, vde_green_band, GREEN)
curve(ax, vde_green_E, vde_green_S, GREEN)
band(ax, vde_blue_band, BLUE)
curve(ax, vde_blue_E, vde_blue_S, BLUE)
curve(ax, vde_magenta_E, vde_magenta_S, MAGENTA)
curve(ax, vde_cyan_E, vde_cyan_S, CYAN)

# bottom row
ax = low_axes[0]
band(ax, low_dr_black_band, BLACK)
curve(ax, low_dr_black_E, low_dr_black_S, BLACK)
spikes(ax, low_dr_red_spikes, RED)
curve(ax, low_dr_red_E, low_dr_red_S, RED)
curve(ax, low_dr_green_E, low_dr_green_S, GREEN)
curve(ax, low_dr_blue_E, low_dr_blue_S, BLUE)
curve(ax, low_dr_magenta_E, low_dr_magenta_S, MAGENTA)
curve(ax, low_dr_cyan_E, low_dr_cyan_S, CYAN)

ax = low_axes[1]
curve(ax, low_de_black_E, low_de_black_S, BLACK)
curve(ax, low_de_red_E, low_de_red_S, RED)
curve(ax, low_de_green_E, low_de_green_S, GREEN)
curve(ax, low_de_blue_E, low_de_blue_S, BLUE)
curve(ax, low_de_magenta_E, low_de_magenta_S, MAGENTA)
curve(ax, low_de_cyan_E, low_de_cyan_S, CYAN)

ax = low_axes[2]
curve(ax, low_ve_black_start_E, low_ve_black_start_S, BLACK)
band(ax, low_ve_black_band, BLACK)
curve(ax, low_ve_black_E, low_ve_black_S, BLACK)
band(ax, low_ve_red_band, RED)
curve(ax, low_ve_red_E, low_ve_red_S, RED)
curve(ax, low_ve_green_E, low_ve_green_S, GREEN)
curve(ax, low_ve_blue_E, low_ve_blue_S, BLUE)
curve(ax, low_ve_magenta_E, low_ve_magenta_S, MAGENTA)
curve(ax, low_ve_cyan_E, low_ve_cyan_S, CYAN)

ax = low_axes[3]
band(ax, low_vde_black_band, BLACK)
curve(ax, low_vde_black_E, low_vde_black_S, BLACK)
band(ax, low_vde_red_band, RED)
curve(ax, low_vde_red_E, low_vde_red_S, RED)
curve(ax, low_vde_green_E, low_vde_green_S, GREEN)
curve(ax, low_vde_blue_E, low_vde_blue_S, BLUE)
curve(ax, low_vde_magenta_E, low_vde_magenta_S, MAGENTA)
curve(ax, low_vde_cyan_E, low_vde_cyan_S, CYAN)

top_minor = [m / 10 for m in range(2, 10)]
low_minor = [v / 10 for v in range(20, 71)]
for n, ax in enumerate(top_axes):
    labels = ['0.1', '1', '2' if n == 3 else '']
    ylabels = [r'$10^{\text{-}%d}$' % -v for v in top_yticks] if n == 0 else [''] * len(top_yticks)
    finish_panel(ax, (0.1, 2), (1e-19, 1e-14), top_xticks, top_minor, labels, ylabels, top_yticks)
    ax.set_title(process_names[n], fontsize=18.5, pad=4)
for n, ax in enumerate(low_axes):
    ax.axvline(threshold_energy, color=BLACK, linewidth=1.1)
    labels = [str(v) if (v < 7 or n == 3) else '' for v in low_xticks]
    ylabels = [r'$10^{\text{-}%d}$' % -v for v in low_yticks] if n == 0 else [''] * len(low_yticks)
    finish_panel(ax, (2, 7), (1e-19, 1.2e-16), low_xticks, low_minor, labels, ylabels, low_yticks)
    ax.set_title(process_names[n], fontsize=18.5, pad=4)

# legends and shared labels, on a full-figure pixel overlay
over = fig.add_axes([0, 0, 1, 1], zorder=10)
over.set_xlim(0, W)
over.set_ylim(H, 0)
over.axis('off')
over.patch.set_alpha(0)
colors = [BLACK, RED, GREEN, BLUE, MAGENTA, CYAN]


def legend_box(title, title_x, title_y, x0, x1, y0, y1, ys, texts, text_x):
    over.text(title_x, title_y, title, fontsize=18.5, ha='center', va='center')
    over.add_patch(Rectangle((x0, y0), x1 - x0, y1 - y0, fill=False, edgecolor='black', linewidth=1.2, clip_on=False))
    for y, t, c in zip(ys, texts, colors):
        over.plot([1078, 1107], [y, y], color=c, linewidth=1.1)
        over.text(text_x, y, t, fontsize=14, ha='left', va='center')


vi_texts = [r'v$_{\mathrm{i}}^{+}$' + t for t in legend_dr]
for shift in (0, 759):
    legend_box('DR & DE', 1118, 47 + shift, 1067, 1195, 60 + shift, 300 + shift,
               [v + shift for v in (84, 122, 161, 199, 238, 276)], vi_texts, 1124)
    legend_box('VE', 1123, 333 + shift, 1067, 1182, 351 + shift, 502 + shift,
               [v + shift for v in (367, 392, 416, 440, 464, 488)], legend_ve, 1124)
    legend_box('VdE', 1124, 526 + shift, 1067, 1182, 542 + shift, 693 + shift,
               [v + shift for v in (559, 583, 608, 632, 656, 680)], legend_vde, 1124)
    over.text(708, 741 + shift, 'Energy (eV)', fontsize=24.5, ha='center', va='center')
    over.text(36, 365 + shift, r'Cross section (cm$^{2}$)', fontsize=24.5, rotation=90, ha='center', va='center')

fig.savefig('out.png', dpi=100)
